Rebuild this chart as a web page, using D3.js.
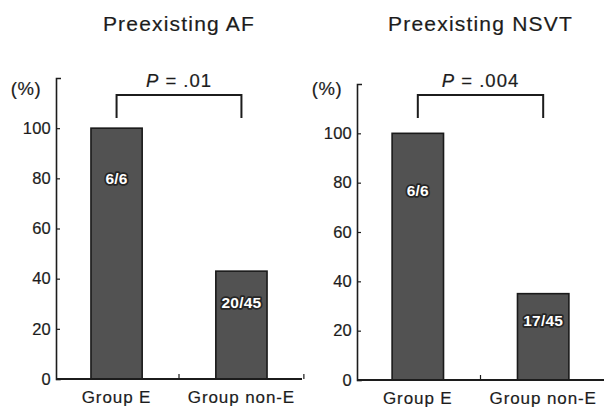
<!DOCTYPE html>
<html>
<head>
<meta charset="utf-8">
<script src="https://cdn.jsdelivr.net/npm/d3@7"></script>
<style>html,body{margin:0;background:#fff}svg{display:block}</style>
</head>
<body>
<div id="chart"></div>
<script>
var groups = ['Group E', 'Group non-E'];
var titles = ['Preexisting AF', 'Preexisting NSVT'];
var pValues = ['.01', '.004'];
var afPct = [100, 43];
var nsvtPct = [100, 35];
var afCounts = ['6/6', '20/45'];
var nsvtCounts = ['6/6', '17/45'];
var afLabelAt = [80, 30.5];
var nsvtLabelAt = [77, 24];
var yTicks = [0, 20, 40, 60, 80, 100];
var yMax = 120;

(function () {
  var W = 604, H = 416, INK = '#1c1c1c';
  var svg = d3.select('#chart').append('svg').attr('width', W).attr('height', H)
    .attr('font-family', '"Liberation Sans", Arial, Helvetica, sans-serif');
  // scanned print looks a bit heavy, so give plain text a thin outline
  function ink(sel) { return sel.attr('fill', INK).attr('stroke', INK).attr('stroke-width', 0.2); }

  var panels = [
    { title: titles[0], p: pValues[0], vals: afPct, counts: afCounts, at: afLabelAt, x0: 56, x1: 302, y0: 379, y1: 78 },
    { title: titles[1], p: pValues[1], vals: nsvtPct, counts: nsvtCounts, at: nsvtLabelAt, x0: 357, x1: 604, y0: 380, y1: 84 }
  ];

  panels.forEach(function (pn) {
    var x = d3.scaleBand().domain(groups).range([pn.x0, pn.x1]).paddingInner(0.59).paddingOuter(0.28);
    var y = d3.scaleLinear().domain([0, yMax]).range([pn.y0, pn.y1]);
    var bw = x.bandwidth(), step = x.step();
    var g = svg.append('g');
    var rows = groups.map(function (k, i) { return { k: k, v: pn.vals[i], c: pn.counts[i], at: pn.at[i] }; });

    // bars
    g.append('g').selectAll('rect').data(rows).join('rect')
      .attr('x', function (d) { return x(d.k); }).attr('y', function (d) { return y(d.v); })
      .attr('width', bw).attr('height', function (d) { return y(0) - y(d.v); })
      .attr('fill', '#525252').attr('stroke', '#1a1a1a').attr('stroke-width', 1.6);
    g.append('g').selectAll('text').data(rows).join('text')
      .attr('x', function (d) { return x(d.k) + bw / 2; }).attr('y', function (d) { return y(d.at); })
      .attr('dy', '.36em').attr('text-anchor', 'middle').attr('font-size', 15.5).attr('font-weight', 700)
      .attr('letter-spacing', 0.2).attr('fill', '#fff').attr('stroke', '#262626').attr('stroke-width', 3.5)
      .attr('paint-order', 'stroke').attr('stroke-linejoin', 'round').text(function (d) { return d.c; });

    // y axis
    g.append('g').attr('transform', 'translate(' + pn.x0 + ',0)')
      .call(d3.axisLeft(y).tickValues(yTicks).tickSizeInner(-4).tickSizeOuter(-5).tickPadding(5))
      .call(function (a) { a.select('.domain').attr('stroke', INK).attr('stroke-width', 1.6); })
      .call(function (a) { a.selectAll('line').attr('stroke', INK).attr('stroke-width', 1.2); })
      .call(function (a) { ink(a.selectAll('text')).attr('font-size', 16.5).attr('letter-spacing', 0.2).attr('font-family', null); });

    // x axis
    g.append('line').attr('x1', pn.x0).attr('x2', pn.x1).attr('y1', y(0)).attr('y2', y(0))
      .attr('stroke', INK).attr('stroke-width', 1.8);
    g.append('g').selectAll('line').data(groups).join('line')
      .attr('x1', function (d) { return x(d) + bw / 2 + step / 2; }).attr('x2', function (d) { return x(d) + bw / 2 + step / 2; })
      .attr('y1', y(0)).attr('y2', y(0) - 5).attr('stroke', INK).attr('stroke-width', 1.2);
    ink(g.append('g').selectAll('text').data(groups).join('text'))
      .attr('x', function (d) { return x(d) + bw / 2; }).attr('y', y(0) + 24)
      .attr('text-anchor', 'middle').attr('font-size', 17).attr('letter-spacing', 0.9)
      .text(function (d) { return d; });

    // title, unit, bracket
    ink(g.append('text')).attr('x', (pn.x0 + pn.x1) / 2).attr('y', 31).attr('text-anchor', 'middle')
      .attr('font-size', 21).attr('letter-spacing', 1.2).text(pn.title);
    ink(g.append('text')).attr('x', pn.x0 - 30).attr('y', 95).attr('text-anchor', 'middle')
      .attr('font-size', 18.5).attr('letter-spacing', 0.6).text('(%)');
    var c0 = x(groups[0]) + bw / 2, c1 = x(groups[1]) + bw / 2;
    g.append('path').attr('d', 'M' + c0 + ',118V95H' + c1 + 'V118')
      .attr('fill', 'none').attr('stroke', INK).attr('stroke-width', 2);
    var pt = ink(g.append('text')).attr('x', (c0 + c1) / 2).attr('y', 87).attr('text-anchor', 'middle')
      .attr('font-size', 18.5).attr('letter-spacing', 1);
    pt.append('tspan').attr('font-style', 'italic').text('P');
    pt.append('tspan').text(' = ' + pn.p);
  });
})();
</script>
</body>
</html>
